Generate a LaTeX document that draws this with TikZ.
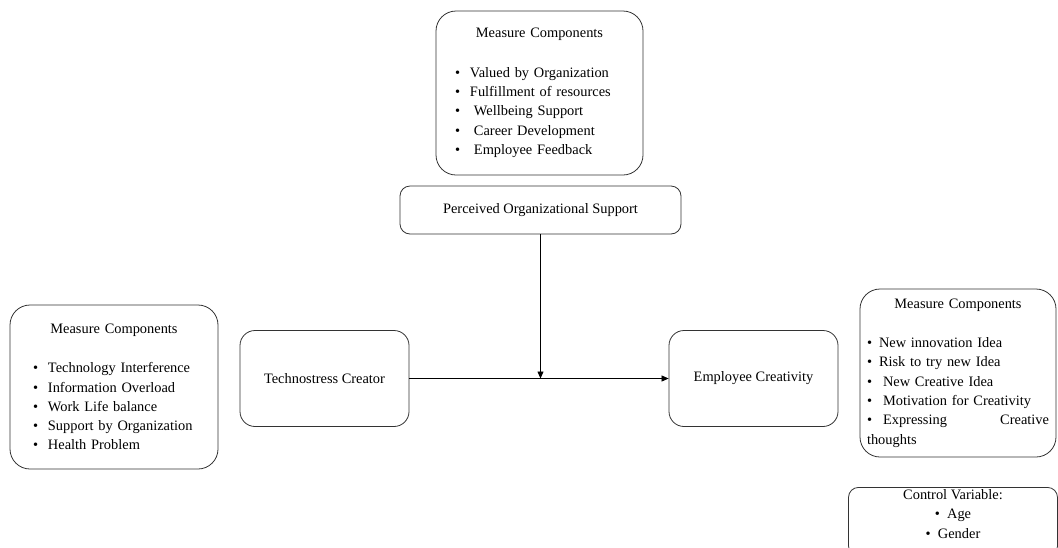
\documentclass[tikz,border=0pt]{standalone}
\usepackage{fontspec}
\setmainfont{Liberation Serif}
\usepackage{tikz}
\usetikzlibrary{arrows.meta}

\newcommand{\itm}[2][15pt]{\mbox{\makebox[#1][l]{\textbullet}#2}\par}

\begin{document}
\begin{tikzpicture}[x=1pt, y=-1pt,
        every node/.style={font=\fontsize{14.4}{19.3}\selectfont},
        listbox/.style={draw=black!80, line width=0.8pt, rounded corners=20pt, inner xsep=0pt, align=left},
        varbox/.style={draw=black!80, line width=0.8pt, rounded corners=15pt, minimum width=169pt, minimum height=96pt},
        link/.style={draw, line width=0.7pt, -{Triangle[length=7pt, width=6pt]}}]
        \useasboundingbox (0,0) rectangle (1058,547);
        
        % moderator and its measure
        \node[listbox, minimum width=207pt, minimum height=164pt, text width=169pt] (posmeas) at (539.5,93) {%
            {\centering Measure Components\par}\vspace{20pt}
            \itm{Valued by Organization}
            \itm{Fulfillment of resources}
            \itm[19pt]{Wellbeing Support}
            \itm[19pt]{Career Development}
            \itm[19pt]{Employee Feedback}};
        \node[draw=black!80, line width=0.8pt, rounded corners=10pt, minimum width=281pt, minimum height=48pt] (pos) at (540.5,210) {Perceived Organizational Support};
        
        % independent variable
        \node[listbox, minimum width=208pt, minimum height=164pt, text width=162pt] (tcmeas) at (114,387) {%
            {\centering Measure Components\par}\vspace{20pt}
            \itm{Technology Interference}
            \itm{Information Overload}
            \itm{Work Life balance}
            \itm{Support by Organization}
            \itm{Health Problem}};
        \node[varbox] (tc) at (324.5,378.5) {Technostress Creator};
        
        % dependent variable
        \node[varbox] (ec) at (753.5,378.5) {Employee Creativity};
        \node[listbox, minimum width=196pt, minimum height=168pt, text width=182pt] (ecmeas) at (958,373) {%
            {\centering Measure Components\par}\vspace{20pt}
            \itm[12pt]{New innovation Idea}
            \itm[12pt]{Risk to try new Idea}
            \itm[16pt]{New Creative Idea}
            \itm[16pt]{Motivation for Creativity}
            \hbox to \linewidth{\makebox[16pt][l]{\textbullet}Expressing\hfill Creative}
            thoughts};
        
        \node[draw=black!80, line width=0.8pt, rounded corners=10pt, anchor=north, minimum width=209pt, inner ysep=2pt, align=center] (ctrl) at (953,487) {%
            Control Variable:\\
            \textbullet\ \ Age\\
            \textbullet\ \ Gender\rule[-16pt]{0pt}{16pt}};
        
        \draw[link] (tc.east) -- (ec.west);
        \draw[link] (pos.south) -- (pos.south |- tc.east);
        
\end{tikzpicture}
\end{document}
